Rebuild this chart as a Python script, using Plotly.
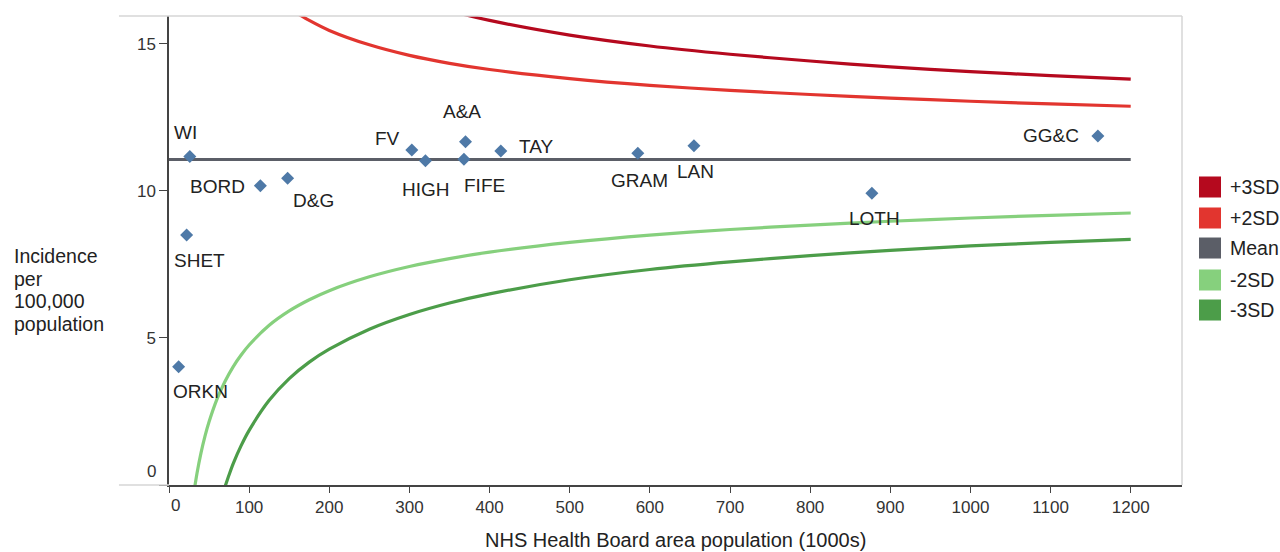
import plotly.graph_objects as go

# ---------------- data ----------------
boards = ["WI", "BORD", "D&G", "SHET", "ORKN", "FV", "HIGH", "A&A", "FIFE", "TAY", "GRAM", "LAN", "GG&C", "LOTH"]
board_pop = [26, 114, 148, 22, 12, 303, 320, 370, 368, 414, 585, 655, 1159, 877]
board_rate = [11.17, 10.18, 10.43, 8.50, 4.02, 11.39, 11.03, 11.67, 11.08, 11.36, 11.28, 11.54, 11.87, 9.92]

mean_pop = [0, 1200]
mean_rate = [11.07, 11.07]

plus3_pop = [300, 350, 400, 500, 600, 700, 800, 900, 1000, 1100, 1200]
plus3_rate = [16.53, 16.13, 15.80, 15.30, 14.93, 14.65, 14.42, 14.22, 14.06, 13.92, 13.80]

plus2_pop = [150, 175, 200, 250, 300, 350, 400, 500, 600, 700, 800, 900, 1000, 1100, 1200]
plus2_rate = [16.20, 15.80, 15.46, 14.97, 14.61, 14.34, 14.13, 13.82, 13.59, 13.42, 13.28, 13.16, 13.05, 12.96, 12.88]

minus2_pop = [30, 35, 40, 45, 50, 60, 70, 80, 90, 100, 125, 150, 175, 200, 250, 300, 350, 400, 500, 600, 700, 800, 900, 1000, 1100, 1200]
minus2_rate = [-0.44, 0.41, 1.10, 1.67, 2.15, 2.93, 3.53, 4.02, 4.42, 4.76, 5.43, 5.92, 6.30, 6.61, 7.08, 7.43, 7.70, 7.92, 8.25, 8.50, 8.69, 8.84, 8.97, 9.08, 9.17, 9.25]

minus3_pop = [70, 75, 80, 90, 100, 125, 150, 175, 200, 250, 300, 350, 400, 500, 600, 700, 800, 900, 1000, 1100, 1200]
minus3_rate = [-0.05, 0.35, 0.72, 1.34, 1.86, 2.88, 3.62, 4.18, 4.62, 5.30, 5.80, 6.19, 6.50, 6.98, 7.33, 7.59, 7.80, 7.98, 8.13, 8.25, 8.35]

x_ticks = [0, 100, 200, 300, 400, 500, 600, 700, 800, 900, 1000, 1100, 1200]
y_ticks = [0, 5, 10, 15]

legend_names = ["+3SD", "+2SD", "Mean", "-2SD", "-3SD"]
y_title_lines = ["Incidence", "per", "100,000", "population"]
x_title = "NHS Health Board area population (1000s)"

# ---------------- styles ----------------
line_colors = {"+3SD": "#b5091e", "+2SD": "#e2352f", "Mean": "#5b5e67", "-2SD": "#86d07d", "-3SD": "#4c9d49"}
marker_color = "#4e79a7"
FONT = "Liberation Sans, Arial, sans-serif"
TEXT = "#222222"
TICK = "#333333"

# label offsets in pixels (dx, dy) with dy positive = downward
label_offsets = {
    "WI": (-4, -24), "BORD": (-43, 1), "D&G": (26, 22), "SHET": (13, 25), "ORKN": (22, 25),
    "FV": (-24, -12), "HIGH": (1, 29), "A&A": (-4, -30), "FIFE": (21, 26), "TAY": (35, -4),
    "GRAM": (2, 27), "LAN": (2, 26), "GG&C": (-47, 0), "LOTH": (3, 25),
}

fig = go.Figure()

curves = [
    ("+3SD", plus3_pop, plus3_rate),
    ("+2SD", plus2_pop, plus2_rate),
    ("-2SD", minus2_pop, minus2_rate),
    ("-3SD", minus3_pop, minus3_rate),
    ("Mean", mean_pop, mean_rate),
]
for name, xs, ys in curves:
    fig.add_trace(go.Scatter(
        x=xs, y=ys, mode="lines", name=name, showlegend=False, hoverinfo="skip",
        line=dict(color=line_colors[name], width=3.2, shape="spline", smoothing=0.8),
    ))

fig.add_trace(go.Scatter(
    x=board_pop, y=board_rate, mode="markers", showlegend=False,
    text=boards, hovertemplate="%{text}: %{y}<extra></extra>",
    marker=dict(symbol="diamond", size=10, color=marker_color),
))

annotations = []
for b, xv, yv in zip(boards, board_pop, board_rate):
    dx, dy = label_offsets[b]
    annotations.append(dict(
        x=xv, y=yv, xref="x", yref="y", text=b, showarrow=False,
        xshift=dx, yshift=-dy, font=dict(family=FONT, size=19, color=TEXT),
    ))

# "0" tick labels, nudged inward as in the reference
annotations.append(dict(
    x=0, y=y_ticks[0], xref="paper", yref="y", text=str(y_ticks[0]), showarrow=False,
    xanchor="right", xshift=-11, yshift=14, font=dict(family=FONT, size=17, color=TICK),
))
annotations.append(dict(
    x=x_ticks[0], y=0, xref="x", yref="paper", text=str(x_ticks[0]), showarrow=False,
    yanchor="top", xshift=6, yshift=-9, font=dict(family=FONT, size=17, color=TICK),
))

# y axis title, one line per annotation (tight line spacing)
for line, py in zip(y_title_lines, [256, 279, 301, 324]):
    annotations.append(dict(
        x=-0.155, y=(485 - py) / 469, xref="paper", yref="paper", xanchor="left", yanchor="middle",
        align="left", showarrow=False, text=line,
        font=dict(family=FONT, size=19.5, color=TEXT),
    ))

# x axis title
annotations.append(dict(
    x=0.5, y=-0.117, xref="paper", yref="paper", xanchor="center", yanchor="middle",
    showarrow=False, text=x_title,
    font=dict(family=FONT, size=20, color=TEXT),
))

# hand-drawn legend with square swatches
shapes = []
leg_y = [0.6354, 0.5693, 0.5053, 0.4371, 0.3731]
half = 0.0224
for name, yc in zip(legend_names, leg_y):
    shapes.append(dict(type="rect", xref="paper", yref="paper",
                       x0=1.0168, x1=1.0385, y0=yc - half, y1=yc + half,
                       fillcolor=line_colors[name], line=dict(width=0)))
    annotations.append(dict(x=1.0454, y=yc, xref="paper", yref="paper", xanchor="left",
                            yanchor="middle", showarrow=False, text=name,
                            font=dict(family=FONT, size=19.5, color=TEXT)))

# frame lines
shapes.append(dict(type="line", xref="paper", yref="paper", x0=-0.0494, x1=1, y0=1, y1=1,
                   line=dict(color="#d6d6d6", width=1.5)))
shapes.append(dict(type="line", xref="paper", yref="paper", x0=1, x1=1, y0=0, y1=1,
                   line=dict(color="#d6d6d6", width=1.5)))
shapes.append(dict(type="line", xref="paper", yref="paper", x0=-0.0494, x1=0, y0=0, y1=0,
                   line=dict(color="#d6d6d6", width=1.5)))

fig.update_layout(
    width=1280, height=552,
    margin=dict(l=169, r=98, t=16, b=67),
    paper_bgcolor="white", plot_bgcolor="white",
    font=dict(family=FONT, color=TICK),
    showlegend=False,
    annotations=annotations, shapes=shapes,
    xaxis=dict(range=[0, 1264], tickvals=x_ticks,
               ticktext=[""] + [str(v) for v in x_ticks[1:]],
               ticks="outside", ticklen=6,
               tickcolor="#444444", showline=True, linecolor="#444444", linewidth=1.5,
               showgrid=False, zeroline=False, tickfont=dict(family=FONT, size=17, color=TICK)),
    yaxis=dict(range=[0, 15.95], tickvals=y_ticks,
               ticktext=[""] + [str(v) for v in y_ticks[1:]],
               ticks="outside", ticklen=8, tickcolor="#444444", showline=True,
               linecolor="#444444", linewidth=1.5, showgrid=False, zeroline=False,
               tickfont=dict(family=FONT, size=17, color=TICK)),
)

fig.write_html("out.html")
